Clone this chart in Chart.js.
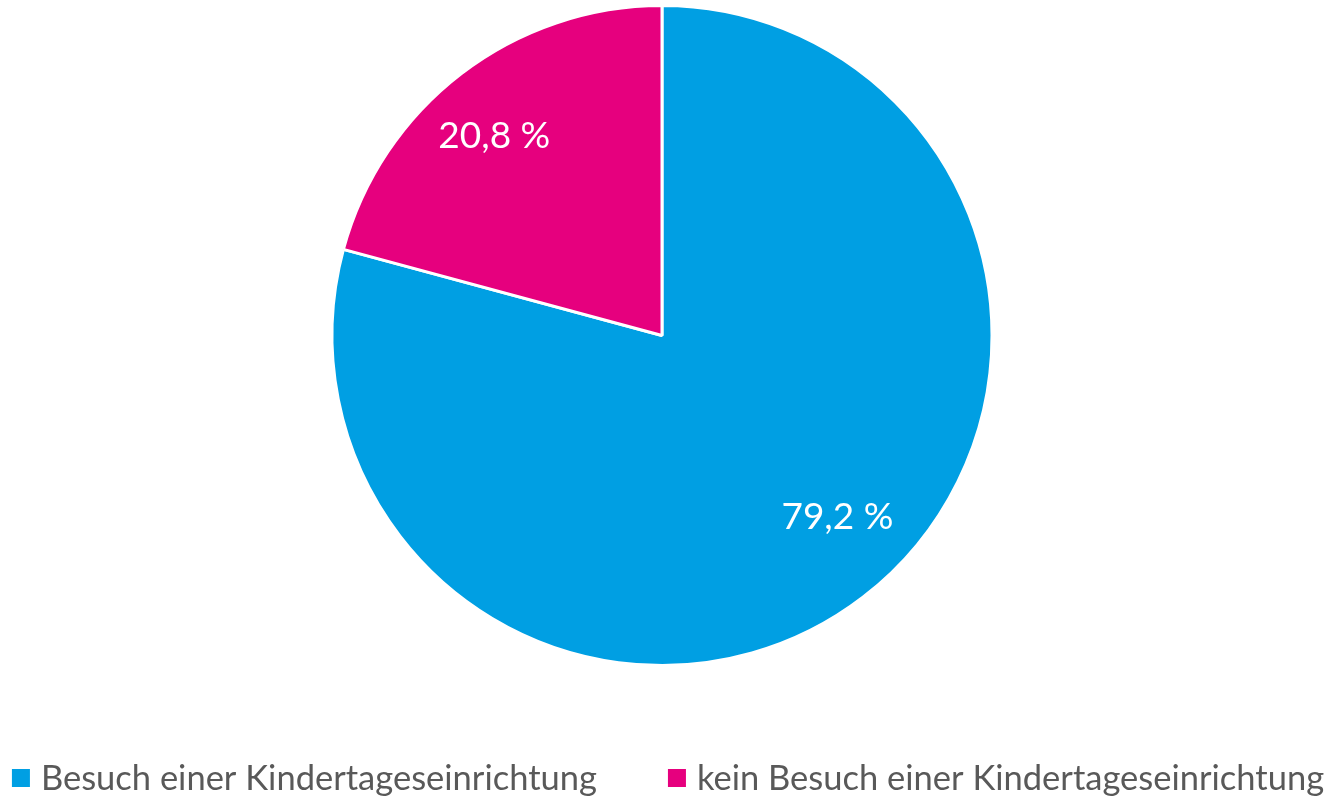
<!DOCTYPE html>
<html lang="de">
<head>
<meta charset="utf-8">
<script src="https://cdn.jsdelivr.net/npm/chart.js"></script>
<style>
    html, body { margin: 0; padding: 0; background: #ffffff; }
    #wrap { width: 1332px; height: 796px; position: relative; }
</style>
</head>
<body>
<div id="wrap"><canvas id="kita-chart"></canvas></div>
<script>
const categories = ['Besuch einer Kindertageseinrichtung', 'kein Besuch einer Kindertageseinrichtung'];
const shares = [79.2, 20.8];
const sliceColors = ['#009FE3', '#E6007E'];

function formatPercent(value) {
    return value.toFixed(1).replace('.', ',') + ' %';
}

// white value labels inside the slices
const sliceLabels = {
    id: 'sliceLabels',
    afterDatasetsDraw(chart, args, opts) {
        const ctx = chart.ctx;
        const meta = chart.getDatasetMeta(0);
        ctx.save();
        ctx.fillStyle = '#ffffff';
        ctx.font = '37px Lato';
        ctx.textAlign = 'center';
        ctx.textBaseline = 'middle';
        meta.data.forEach((arc, i) => {
            const p = arc.getProps(['x', 'y', 'startAngle', 'endAngle', 'outerRadius']);
            const shift = opts.shifts[i] || { angle: 0, radius: 0.78 };
            const a = (p.startAngle + p.endAngle) / 2 + shift.angle * Math.PI / 180;
            const r = p.outerRadius * shift.radius;
            ctx.fillText(formatPercent(shares[i]), p.x + Math.cos(a) * r, p.y + Math.sin(a) * r);
        });
        ctx.restore();
    }
};

// legend row drawn under the pie
const bottomLegend = {
    id: 'bottomLegend',
    afterDraw(chart, args, opts) {
        const ctx = chart.ctx;
        ctx.save();
        ctx.font = opts.fontSize + 'px Lato';
        ctx.textBaseline = 'middle';
        const widths = categories.map(c => ctx.measureText(c).width);
        let total = 0;
        widths.forEach((w, i) => {
            total += opts.box + opts.boxGap + w;
            if (i < widths.length - 1) total += opts.itemGap;
        });
        let x = opts.centerX - total / 2;
        const y = opts.y;
        categories.forEach((c, i) => {
            ctx.fillStyle = sliceColors[i];
            ctx.fillRect(x, y - opts.box / 2, opts.box, opts.box);
            x += opts.box + opts.boxGap;
            ctx.fillStyle = '#595959';
            ctx.fillText(c, x, y + 1);
            x += widths[i] + opts.itemGap;
        });
        ctx.restore();
    }
};

const chart = new Chart(document.getElementById('kita-chart'), {
    type: 'pie',
    data: {
        labels: categories,
        datasets: [{
            data: shares,
            backgroundColor: sliceColors,
            borderColor: '#ffffff',
            borderWidth: 3
        }]
    },
    options: {
        responsive: true,
        maintainAspectRatio: false,
        animation: false,
        layout: {
            padding: { top: 4, bottom: 129, left: 0, right: 8 }
        },
        plugins: {
            tooltip: { enabled: false },
            legend: { display: false },
            sliceLabels: {
                shifts: [{ angle: -6.5, radius: 0.766 }, { angle: -2.6, radius: 0.79 }]
            },
            bottomLegend: {
                fontSize: 34.5,
                box: 18,
                boxGap: 11,
                itemGap: 71,
                centerX: 668,
                y: 778
            }
        }
    },
    plugins: [sliceLabels, bottomLegend]
});
</script>
</body>
</html>
